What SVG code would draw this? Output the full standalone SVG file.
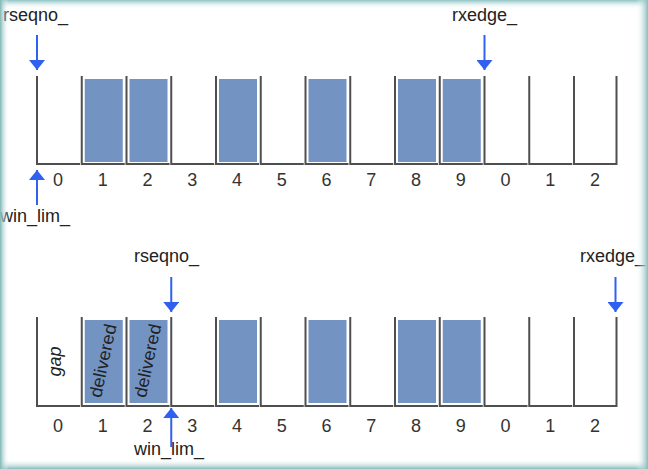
<svg xmlns="http://www.w3.org/2000/svg" width="648" height="469" viewBox="0 0 648 469">
<defs>
<style>
.slot{fill:none;stroke:#4f4f4f;stroke-width:2}
.box{fill:#7393c3}
.num{font-family:"Liberation Sans",Arial,sans-serif;font-size:18px;fill:#333;text-anchor:middle}
.lbl{font-family:"Liberation Sans",Arial,sans-serif;font-size:18px;fill:#222}
.rot{font-family:"Liberation Sans",Arial,sans-serif;font-size:18px;font-style:italic;fill:#222;text-anchor:middle}
.arr{stroke:#3060f0;stroke-width:2;fill:none}
</style>
<marker id="ah" viewBox="0 0 10 16" refX="10" refY="8" markerWidth="10" markerHeight="16" markerUnits="userSpaceOnUse" orient="auto">
<path d="M0,0 L10,8 L0,16 Z" fill="#3060f0"/>
</marker>
<linearGradient id="gt" x1="0" y1="0" x2="0" y2="1"><stop offset="0" stop-color="#8fc3c3"/><stop offset="1" stop-color="#ffffff" stop-opacity="0"/></linearGradient>
<linearGradient id="gb" x1="0" y1="1" x2="0" y2="0"><stop offset="0" stop-color="#86bcbc"/><stop offset="1" stop-color="#ffffff" stop-opacity="0"/></linearGradient>
<linearGradient id="gl" x1="0" y1="0" x2="1" y2="0"><stop offset="0" stop-color="#7fb6b6"/><stop offset="1" stop-color="#ffffff" stop-opacity="0"/></linearGradient>
<linearGradient id="gr" x1="1" y1="0" x2="0" y2="0"><stop offset="0" stop-color="#86bcbc"/><stop offset="1" stop-color="#ffffff" stop-opacity="0"/></linearGradient>
</defs>
<rect x="0" y="0" width="648" height="469" fill="#ffffff"/>

<g id="row1">
<g id="r1-boxes">
<rect class="box" x="84.75" y="79" width="38" height="83"/>
<rect class="box" x="129.5" y="79" width="38" height="83"/>
<rect class="box" x="219" y="79" width="38" height="83"/>
<rect class="box" x="308.5" y="79" width="38" height="83"/>
<rect class="box" x="398" y="79" width="38" height="83"/>
<rect class="box" x="442.75" y="79" width="38" height="83"/>
</g>
<g id="r1-slots">
<path class="slot" d="M37,76V164H80"/>
<path class="slot" d="M81.75,76V164H124.75"/>
<path class="slot" d="M126.5,76V164H169.5"/>
<path class="slot" d="M171.25,76V164H214.25"/>
<path class="slot" d="M216,76V164H259"/>
<path class="slot" d="M260.75,76V164H303.75"/>
<path class="slot" d="M305.5,76V164H348.5"/>
<path class="slot" d="M350.25,76V164H393.25"/>
<path class="slot" d="M395,76V164H438"/>
<path class="slot" d="M439.75,76V164H482.75"/>
<path class="slot" d="M484.5,76V164H527.5"/>
<path class="slot" d="M529.25,76V164H572.25"/>
<path class="slot" d="M574,76V164H616.5V76"/>
</g>
<g id="r1-nums">
<text class="num" x="58" y="186">0</text>
<text class="num" x="102.75" y="186">1</text>
<text class="num" x="147.5" y="186">2</text>
<text class="num" x="192.25" y="186">3</text>
<text class="num" x="237" y="186">4</text>
<text class="num" x="281.75" y="186">5</text>
<text class="num" x="326.5" y="186">6</text>
<text class="num" x="371.25" y="186">7</text>
<text class="num" x="416" y="186">8</text>
<text class="num" x="460.75" y="186">9</text>
<text class="num" x="505.5" y="186">0</text>
<text class="num" x="550.25" y="186">1</text>
<text class="num" x="595" y="186">2</text>
</g>
</g>

<g id="row2">
<g id="r2-boxes">
<rect class="box" x="84.75" y="320" width="38" height="83"/>
<rect class="box" x="129.5" y="320" width="38" height="83"/>
<rect class="box" x="219" y="320" width="38" height="83"/>
<rect class="box" x="308.5" y="320" width="38" height="83"/>
<rect class="box" x="398" y="320" width="38" height="83"/>
<rect class="box" x="442.75" y="320" width="38" height="83"/>
</g>
<g id="r2-slots">
<path class="slot" d="M37,317V406H80"/>
<path class="slot" d="M81.75,317V406H124.75"/>
<path class="slot" d="M126.5,317V406H169.5"/>
<path class="slot" d="M171.25,317V406H214.25"/>
<path class="slot" d="M216,317V406H259"/>
<path class="slot" d="M260.75,317V406H303.75"/>
<path class="slot" d="M305.5,317V406H348.5"/>
<path class="slot" d="M350.25,317V406H393.25"/>
<path class="slot" d="M395,317V406H438"/>
<path class="slot" d="M439.75,317V406H482.75"/>
<path class="slot" d="M484.5,317V406H527.5"/>
<path class="slot" d="M529.25,317V406H572.25"/>
<path class="slot" d="M574,317V406H616.5V317"/>
</g>
<g id="r2-nums">
<text class="num" x="58" y="432">0</text>
<text class="num" x="102.75" y="432">1</text>
<text class="num" x="147.5" y="432">2</text>
<text class="num" x="192.25" y="432">3</text>
<text class="num" x="237" y="432">4</text>
<text class="num" x="281.75" y="432">5</text>
<text class="num" x="326.5" y="432">6</text>
<text class="num" x="371.25" y="432">7</text>
<text class="num" x="416" y="432">8</text>
<text class="num" x="460.75" y="432">9</text>
<text class="num" x="505.5" y="432">0</text>
<text class="num" x="550.25" y="432">1</text>
<text class="num" x="595" y="432">2</text>
</g>
<g id="r2-tags">
<text class="rot" transform="translate(61,361.5) rotate(-90)">gap</text>
<text class="rot" transform="translate(109,361) rotate(-90) skewY(12)">delivered</text>
<text class="rot" transform="translate(153.75,361) rotate(-90) skewY(12)">delivered</text>
</g>
</g>

<g id="pointers">
<g id="p-rseqno1"><text class="lbl" x="3" y="20.5">rseqno_</text></g>
<g id="p-winlim1"><text class="lbl" x="0" y="222">win_lim_</text></g>
<g id="p-rxedge1"><text class="lbl" x="452" y="20.5">rxedge_</text></g>
<g id="p-rseqno2"><text class="lbl" x="134" y="261.5">rseqno_</text></g>
<g id="p-winlim2"><text class="lbl" x="134" y="455">win_lim_</text></g>
<g id="p-rxedge2"><text class="lbl" x="580" y="262">rxedge_</text></g>
</g>

<g id="connectors">
<line class="arr" x1="37" y1="35" x2="37" y2="70" marker-end="url(#ah)"/>
<line class="arr" x1="37" y1="205" x2="37" y2="170" marker-end="url(#ah)"/>
<line class="arr" x1="484.5" y1="35" x2="484.5" y2="70" marker-end="url(#ah)"/>
<line class="arr" x1="171.25" y1="277" x2="171.25" y2="312" marker-end="url(#ah)"/>
<line class="arr" x1="171.25" y1="447" x2="171.25" y2="408" marker-end="url(#ah)"/>
<line class="arr" x1="615.5" y1="277" x2="615.5" y2="312" marker-end="url(#ah)"/>
</g>

<g id="frame">
<rect x="0" y="0" width="648" height="9" fill="url(#gt)"/>
<rect x="0" y="459" width="648" height="10" fill="url(#gb)"/>
<rect x="0" y="0" width="9" height="469" fill="url(#gl)"/>
<rect x="636" y="0" width="12" height="469" fill="url(#gr)"/>
</g>
</svg>
